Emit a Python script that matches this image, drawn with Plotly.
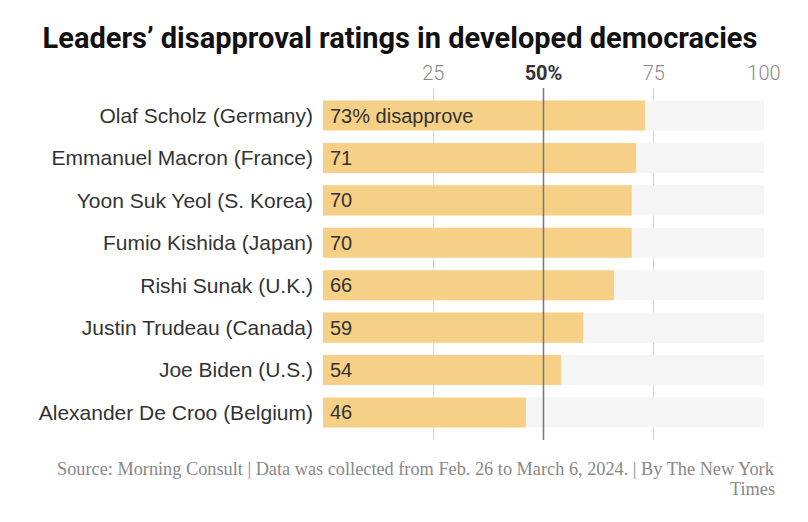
import plotly.graph_objects as go

leaders = [
    "Olaf Scholz (Germany)",
    "Emmanuel Macron (France)",
    "Yoon Suk Yeol (S. Korea)",
    "Fumio Kishida (Japan)",
    "Rishi Sunak (U.K.)",
    "Justin Trudeau (Canada)",
    "Joe Biden (U.S.)",
    "Alexander De Croo (Belgium)",
]
disapproval = [73, 71, 70, 70, 66, 59, 54, 46]
full_scale = [100] * len(leaders)
value_labels = ["73% disapprove", "71", "70", "70", "66", "59", "54", "46"]
tick_vals = [25, 50, 75, 100]
tick_text = ["25", '<span style="color:#333333;font-weight:bold">50%</span>', "75", "100"]
source_line1 = "Source: Morning Consult | Data was collected from Feb. 26 to March 6, 2024. | By The New York"
source_line2 = "Times"

fig = go.Figure()
fig.add_trace(go.Bar(
    y=leaders, x=full_scale, orientation="h",
    marker=dict(color="#f5f5f5", line=dict(width=0)),
    width=0.71, hoverinfo="skip", showlegend=False,
))
fig.add_trace(go.Bar(
    y=leaders, x=disapproval, orientation="h",
    marker=dict(color="#f6d086", line=dict(width=0)),
    width=0.71, showlegend=False,
))

for name, lab in zip(leaders, value_labels):
    fig.add_annotation(
        x=0, y=name, xref="x", yref="y", text=lab, showarrow=False,
        xanchor="left", yanchor="middle", xshift=5,
        font=dict(family="Liberation Sans, Arial, sans-serif", size=20, color="#333333"),
    )

fig.add_shape(type="line", xref="x", yref="paper", x0=50, x1=50, y0=0, y1=1,
              line=dict(color="#777777", width=1.5), layer="above")

src_font = dict(family="Liberation Serif, Georgia, serif", size=18.3, color="#888888")
fig.add_annotation(
    xref="paper", yref="paper", x=1.0295, y=-0.0824, xanchor="right", yanchor="middle",
    showarrow=False, text=source_line1, font=src_font,
)
fig.add_annotation(
    xref="paper", yref="paper", x=1.0295, y=-0.139, xanchor="right", yanchor="middle",
    showarrow=False, text=source_line2, font=src_font,
)

fig.update_layout(
    width=808, height=522,
    margin=dict(l=323, r=44, t=88, b=82),
    paper_bgcolor="white", plot_bgcolor="white",
    barmode="overlay",
    title=dict(
        text="<b>Leaders’ disapproval ratings in developed democracies</b>",
        x=0.495, xref="container", xanchor="center",
        y=0.927, yref="container", yanchor="middle",
        font=dict(family="Roboto, Liberation Sans, sans-serif", size=29, color="#111111"),
    ),
    xaxis=dict(
        side="top", range=[0, 100], tickvals=tick_vals, ticktext=tick_text,
        showgrid=True, gridcolor="#d4d4d4", gridwidth=1, zeroline=False,
        showline=False, ticks="",
        tickfont=dict(family="Roboto, Liberation Sans, sans-serif", size=20, color="#8a8a8a", weight=300),
        ticklabelstandoff=3,
        fixedrange=True,
    ),
    yaxis=dict(
        range=[7.65, -0.65], showgrid=False, zeroline=False, showline=False, ticks="",
        tickfont=dict(family="Liberation Sans, Arial, sans-serif", size=21, color="#333333"),
        ticklabelstandoff=9,
        fixedrange=True,
    ),
)

fig.write_html("out.html")
